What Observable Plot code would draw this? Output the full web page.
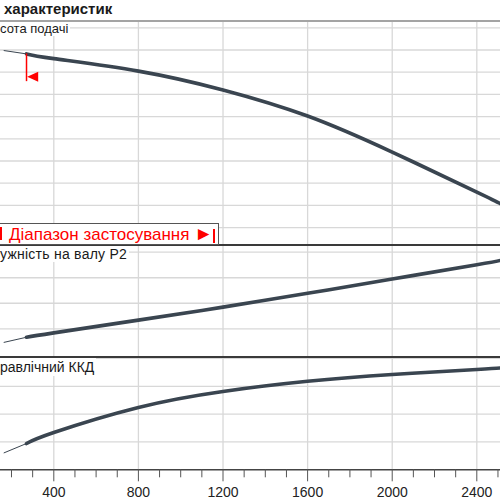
<!DOCTYPE html>
<html><head><meta charset="utf-8">
<script src="https://cdn.jsdelivr.net/npm/d3@7"></script>
<script src="https://cdn.jsdelivr.net/npm/@observablehq/plot@0.6"></script>
<style>
body{margin:0;background:#fff;}
#wrap{position:relative;width:500px;height:500px;overflow:hidden;font-family:"Liberation Sans",Arial,sans-serif;background:#fff;}
#wrap svg{position:absolute;left:0;}
.lbl{position:absolute;left:0;background:#fff;color:#1a1a1a;white-space:nowrap;padding-right:2px;overflow:hidden;}
.hl{position:absolute;left:0;width:500px;}
</style></head><body><div id="wrap"></div>
<script>
// Flow rate Q (m3/h) read at points along the curves
const flow = [165, 271, 400, 800, 1200, 1600, 2000, 2400, 2512];
// Head H (m)
const head = [35.9, 35.3, 34.45, 32.2, 28.8, 24.1, 17.6, 10.4, 8.3];
// Shaft power P2 (kW)
const power = [0.47, 0.67, 0.84, 1.34, 1.85, 2.39, 2.95, 3.51, 3.68];
// Hydraulic efficiency (%)
const efficiency = [12.2, 18.9, 26.8, 44.8, 56.3, 63.6, 68.5, 72.1, 73.2];
// x tick labels and minor ticks
const qTicks = [400, 800, 1200, 1600, 2000, 2400];
const qMinor = [200, 300, 500, 600, 700, 900, 1000, 1100, 1300, 1400, 1500, 1700, 1800, 1900, 2100, 2200, 2300, 2500];
// horizontal grid values
const headGrid = [4, 8, 12, 16, 20, 24, 28, 32, 36, 40];
const powerGrid = [1, 2, 3, 4];
const effGrid = [20, 40, 60, 80];
// start of the application range
const rangeStart = 271;
const rangeMarkerHead = [35.3, 30.3, 31.2];

const rows = flow.map((q, i) => ({q, head: head[i], power: power[i], eff: efficiency[i]}));
const thin = rows.slice(0, 2), thick = rows.slice(1);
const curveColor = "#3a4550", gridColor = "#d8d8d8";
const xOpt = {domain: [148, 2512], axis: null, label: null};
const leftTri = {draw(ctx, size) {const r = Math.sqrt(size / Math.PI); ctx.moveTo(0, 0); ctx.lineTo(2.2 * r, -r); ctx.lineTo(2.2 * r, r); ctx.closePath();}};

function curves(key) {
  return [
    Plot.line(thin, {x: "q", y: key, stroke: curveColor, strokeWidth: 1, clip: true}),
    Plot.line(thick, {x: "q", y: key, stroke: curveColor, strokeWidth: 3.6, curve: "natural", clip: true})
  ];
}
const wrap = document.getElementById("wrap");
function place(svg, top) { svg.style.top = top + "px"; wrap.appendChild(svg); }

const pA = Plot.plot({
  width: 500, height: 224, margin: 0,
  x: xOpt, y: {domain: [0.77, 41.14], axis: null},
  style: {background: "transparent"},
  marks: [
    Plot.ruleY(headGrid, {stroke: gridColor, strokeWidth: 1.3}),
    Plot.ruleX(qTicks, {stroke: gridColor, strokeWidth: 1.3}),
    ...curves("head"),
    Plot.ruleX([rangeStart], {y1: rangeMarkerHead[0], y2: rangeMarkerHead[1], stroke: "#ff0000", strokeWidth: 1.5}),
    Plot.dot([rangeStart], {x: d => d, y: () => rangeMarkerHead[2], symbol: leftTri, r: 5, fill: "#ff0000", stroke: "none", dx: 0.7})
  ]
});
place(pA, 21);

const pB = Plot.plot({
  width: 500, height: 112, margin: 0,
  x: xOpt, y: {domain: [-0.124, 4.263], axis: null},
  style: {background: "transparent"},
  marks: [
    Plot.ruleY(powerGrid, {stroke: gridColor, strokeWidth: 1.3}),
    Plot.ruleX(qTicks, {stroke: gridColor, strokeWidth: 1.3}),
    ...curves("power")
  ]
});
place(pB, 245);

const pC = Plot.plot({
  width: 500, height: 143, marginTop: 0, marginBottom: 30.7, marginLeft: 0, marginRight: 0,
  x: {domain: [148, 2512], label: null, axis: null},
  y: {domain: [0, 80.7], axis: null},
  style: {background: "transparent", color: "#222", fontFamily: "'Liberation Sans', Arial, sans-serif"},
  marks: [
    Plot.ruleY(effGrid, {stroke: gridColor, strokeWidth: 1.3}),
    Plot.ruleX(qTicks, {stroke: gridColor, strokeWidth: 1.3}),
    ...curves("eff"),
    Plot.ruleY([0], {stroke: "#444", strokeWidth: 1.5}),
    Plot.axisX({ticks: qMinor, tickSize: 8, tickFormat: () => "", label: null, stroke: "#555", strokeWidth: 1}),
    Plot.axisX({ticks: qTicks, tickSize: 12, tickPadding: 5, fontSize: 14, label: null, tickFormat: d => String(d), stroke: "#555", strokeWidth: 1, fill: "#222"})
  ]
});
place(pC, 357);

function div(cls, css, html) { const d = document.createElement("div"); d.className = cls; d.style.cssText = css; if (html != null) d.innerHTML = html; wrap.appendChild(d); return d; }
// header
div("", "position:absolute;left:4px;top:0px;font:bold 15px 'Liberation Sans',Arial,sans-serif;line-height:normal;color:#1a1a1a;white-space:nowrap", "характеристик");
div("hl", "top:20px;height:2px;background:#a4a4a4");
// panel separators
div("hl", "top:244px;height:2px;background:#3a3a3a");
div("hl", "top:356px;height:2px;background:#3a3a3a");
// panel labels
div("lbl", "top:22px;height:13.6px;font-size:13px;line-height:13.6px", "сота подачі");
div("lbl", "top:246px;height:16.3px;font-size:14px;line-height:16.3px;letter-spacing:0.25px", "ужність на валу P2");
div("lbl", "top:358px;height:18.2px;font-size:14px;line-height:18.2px", "равлічний ККД");
// application range box
div("", "position:absolute;left:-2px;top:223px;width:221px;height:22px;box-sizing:border-box;border:1px solid #555;background:#fff;overflow:hidden");
div("", "position:absolute;left:9px;top:224px;font-size:17px;line-height:19.2px;color:#ff0000;white-space:nowrap", "Діапазон застосування <span style='font-size:19px'>►</span>");
div("", "position:absolute;left:0px;top:227px;width:2px;height:13px;background:#ff0000");
div("", "position:absolute;left:212.5px;top:229px;width:2px;height:14px;background:#ff0000");
</script></body></html>
